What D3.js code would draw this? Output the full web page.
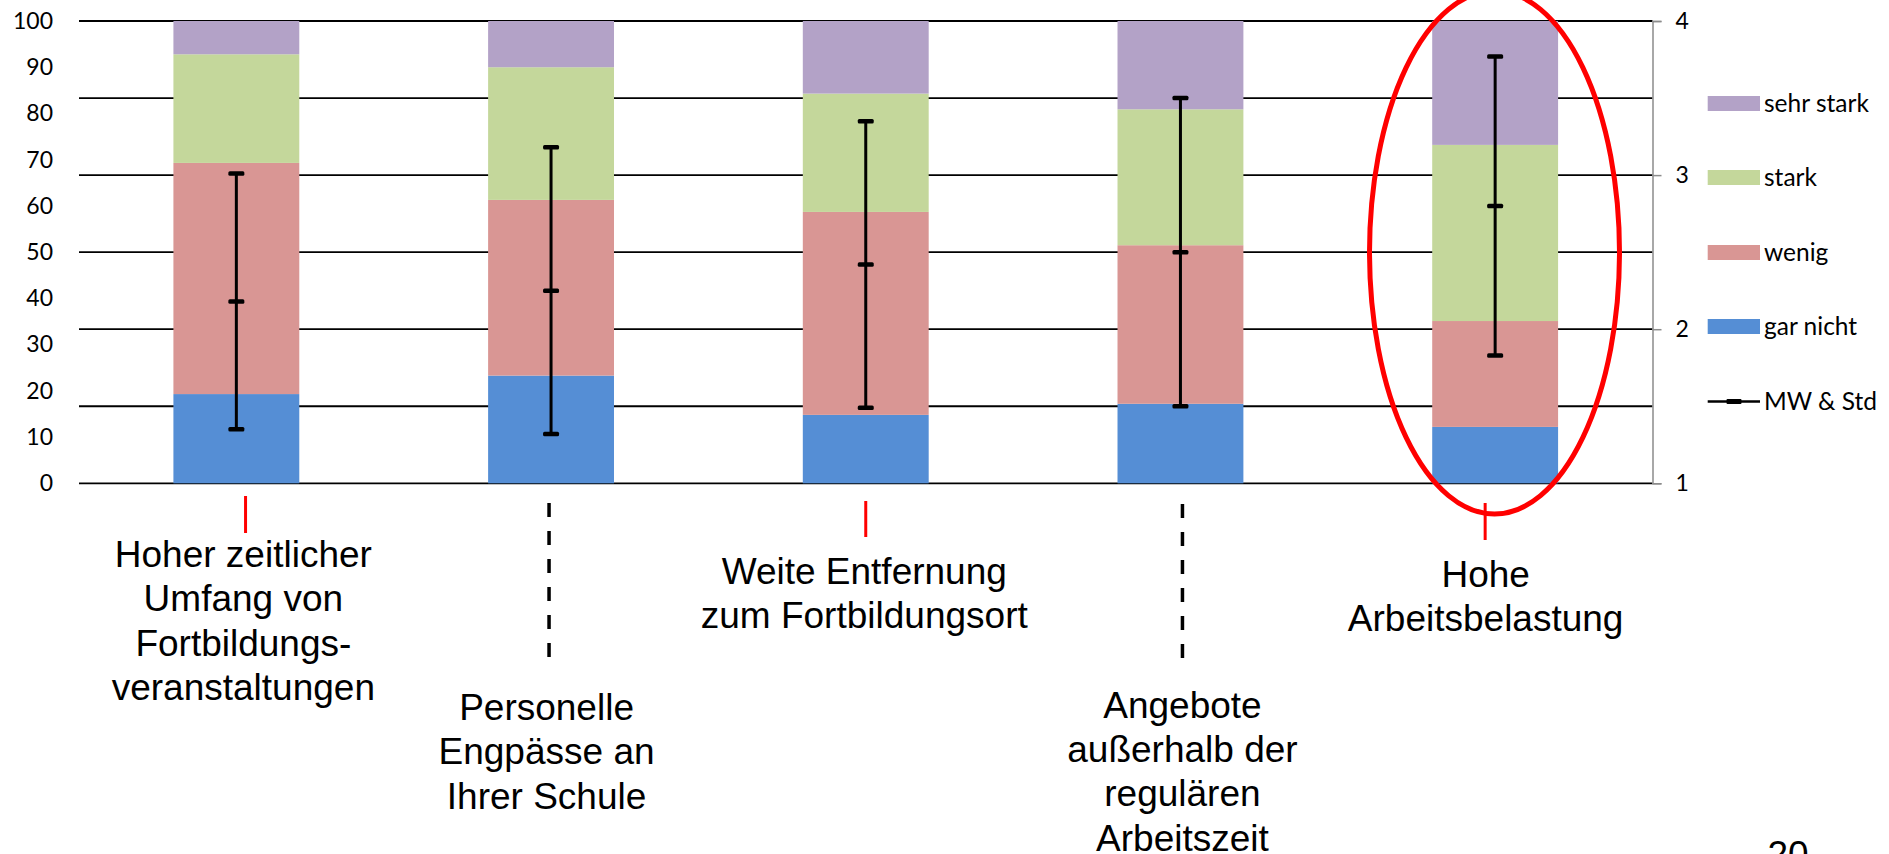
<!DOCTYPE html>
<html>
<head>
<meta charset="utf-8">
<script src="https://cdn.jsdelivr.net/npm/d3@7"></script>
<style>
  html, body { margin: 0; padding: 0; background: #fff; overflow: hidden; }
  svg { display: block; }
</style>
</head>
<body>
<svg id="chart" width="1889" height="854"></svg>
<script>
// ---------- data ----------
const categories = [
  "Hoher zeitlicher Umfang von Fortbildungsveranstaltungen",
  "Personelle Engpässe an Ihrer Schule",
  "Weite Entfernung zum Fortbildungsort",
  "Angebote außerhalb der regulären Arbeitszeit",
  "Hohe Arbeitsbelastung"
];
const labelLines = [
  ["Hoher zeitlicher", "Umfang von", "Fortbildungs-", "veranstaltungen"],
  ["Personelle", "Engpässe an", "Ihrer Schule"],
  ["Weite Entfernung", "zum Fortbildungsort"],
  ["Angebote", "außerhalb der", "regulären", "Arbeitszeit"],
  ["Hohe", "Arbeitsbelastung"]
];
const seriesNames = ["gar nicht", "wenig", "stark", "sehr stark"];
const garNicht  = [19.3, 23.3, 14.8, 17.2, 12.2];
const wenig     = [50.0, 38.0, 43.9, 34.3, 22.9];
const stark     = [23.5, 28.7, 25.6, 29.4, 38.1];
const sehrStark = [7.2, 10.0, 15.7, 19.1, 26.8];
const mw        = [2.18, 2.25, 2.42, 2.50, 2.80];
const sd        = [0.83, 0.93, 0.93, 1.00, 0.97];
const leftTicks  = [0, 10, 20, 30, 40, 50, 60, 70, 80, 90, 100];
const rightTicks = [1, 2, 3, 4];
const gridTicks  = [1, 1.5, 2, 2.5, 3, 3.5, 4];
const highlight  = ["red", "dashed", "red", "dashed", "red"];
const legendItems = ["sehr stark", "stark", "wenig", "gar nicht"];
const pageNumber = "20";

// ---------- styles ----------
const colors = {"gar nicht": "#558ED5", "wenig": "#D99694", "stark": "#C4D79B", "sehr stark": "#B3A2C7"};
const axisFont = "Lato, 'Open Sans', sans-serif";
const labelFont = "'Liberation Sans', Arial, sans-serif";

const svg = d3.select("#chart");

const plotLeft = 79, plotRight = 1652.5, plotTop = 21, plotBottom = 483.3;

const x = d3.scaleBand().domain(categories).range([plotLeft, plotRight]).paddingInner(0.6).paddingOuter(0.3);
const yL = d3.scaleLinear().domain([0, 100]).range([plotBottom, plotTop]);
const yR = d3.scaleLinear().domain([1, 4]).range([plotBottom, plotTop]);

// gridlines
svg.append("g").selectAll("line").data(gridTicks).join("line")
  .attr("x1", plotLeft).attr("x2", plotRight)
  .attr("y1", d => yR(d)).attr("y2", d => yR(d))
  .attr("stroke", "#000").attr("stroke-width", 1.8);

// stacked bars
const rows = categories.map((c, i) => ({
  cat: c, "gar nicht": garNicht[i], "wenig": wenig[i], "stark": stark[i], "sehr stark": sehrStark[i]
}));
const stacked = d3.stack().keys(seriesNames)(rows);
svg.append("g").selectAll("g").data(stacked).join("g")
  .attr("fill", d => colors[d.key])
  .selectAll("rect").data(d => d).join("rect")
  .attr("x", d => x(d.data.cat))
  .attr("width", x.bandwidth())
  .attr("y", d => yL(d[1]))
  .attr("height", d => yL(d[0]) - yL(d[1]));

// right axis
const rAxis = svg.append("g").attr("transform", `translate(${plotRight},0)`)
  .call(d3.axisRight(yR).tickValues(rightTicks).tickSize(9).tickPadding(14).tickFormat(d3.format("d")));
rAxis.select(".domain").attr("stroke", "#8c8c8c").attr("stroke-width", 1.5);
rAxis.selectAll(".tick line").attr("stroke", "#8c8c8c").attr("stroke-width", 1.5);
rAxis.selectAll("text").attr("font-family", axisFont).attr("font-size", 23).attr("fill", "#000").attr("text-anchor", "start");

// left axis labels
const lAxis = svg.append("g").attr("transform", `translate(${plotLeft - 26},0)`)
  .call(d3.axisLeft(yL).tickValues(leftTicks).tickSize(0).tickPadding(0));
lAxis.select(".domain").remove();
lAxis.selectAll("text").attr("font-family", axisFont).attr("font-size", 23).attr("fill", "#000");

// error bars (MW & Std)
const eb = svg.append("g");
const capW = 16, capH = 4.5;
categories.forEach((c, i) => {
  const cx = x(c) + x.bandwidth() / 2;
  eb.append("line").attr("x1", cx).attr("x2", cx)
    .attr("y1", yR(mw[i] + sd[i])).attr("y2", yR(mw[i] - sd[i]))
    .attr("stroke", "#000").attr("stroke-width", 3);
  [mw[i] + sd[i], mw[i], mw[i] - sd[i]].forEach(v => {
    eb.append("rect").attr("x", cx - capW / 2).attr("y", yR(v) - capH / 2)
      .attr("width", capW).attr("height", capH).attr("rx", 1.5).attr("fill", "#000");
  });
});

// legend
const legendY = [103.5, 177.5, 252.5, 326.5];
const lg = svg.append("g");
legendItems.forEach((k, i) => {
  lg.append("rect").attr("x", 1707.7).attr("y", legendY[i] - 7.5).attr("width", 52.3).attr("height", 15).attr("fill", colors[k]);
  lg.append("text").attr("x", 1764).attr("y", legendY[i]).attr("dy", "0.36em")
    .attr("font-family", axisFont).attr("font-size", 24.5).text(k);
});
lg.append("line").attr("x1", 1707.7).attr("x2", 1760).attr("y1", 401.5).attr("y2", 401.5).attr("stroke", "#000").attr("stroke-width", 2.5);
lg.append("rect").attr("x", 1726.5).attr("y", 399).attr("width", 15).attr("height", 5).attr("rx", 1).attr("fill", "#000");
lg.append("text").attr("x", 1764).attr("y", 401.5).attr("dy", "0.36em")
  .attr("font-family", axisFont).attr("font-size", 24.5).text("MW & Std");

// category annotations
const markOffset = [9.2, -2, 0, 2, -10];
const markTop = [496, 503, 501, 504, 503];
const markBottom = [533, 658, 537, 660, 540];
const textOffset = [7, -4.5, -1.5, 2, -9.5];
const firstBaseline = [567, 720, 583.5, 717.5, 587];
const ann = svg.append("g");
categories.forEach((c, i) => {
  const cx = x(c) + x.bandwidth() / 2;
  const isRed = highlight[i] === "red";
  ann.append("line").attr("x1", cx + markOffset[i]).attr("x2", cx + markOffset[i])
    .attr("y1", markTop[i]).attr("y2", markBottom[i])
    .attr("stroke", isRed ? "#FF0000" : "#000")
    .attr("stroke-width", isRed ? 3 : 3.5)
    .attr("stroke-dasharray", isRed ? null : "14,14");
  const t = ann.append("text").attr("text-anchor", "middle")
    .attr("font-family", labelFont).attr("font-size", 37).attr("fill", "#000");
  labelLines[i].forEach((ln, j) => {
    t.append("tspan").attr("x", cx + textOffset[i]).attr("y", firstBaseline[i] + j * 44.4).text(ln);
  });
});

// red highlight ellipse
svg.append("ellipse").attr("cx", 1494.5).attr("cy", 252.5).attr("rx", 125).attr("ry", 261.5)
  .attr("fill", "none").attr("stroke", "#FF0000").attr("stroke-width", 5);

// page number (cut off at the bottom)
svg.append("text").attr("x", 1788).attr("y", 867).attr("text-anchor", "middle")
  .attr("font-family", labelFont).attr("font-size", 37).attr("fill", "#000").text(pageNumber);
</script>
</body>
</html>
